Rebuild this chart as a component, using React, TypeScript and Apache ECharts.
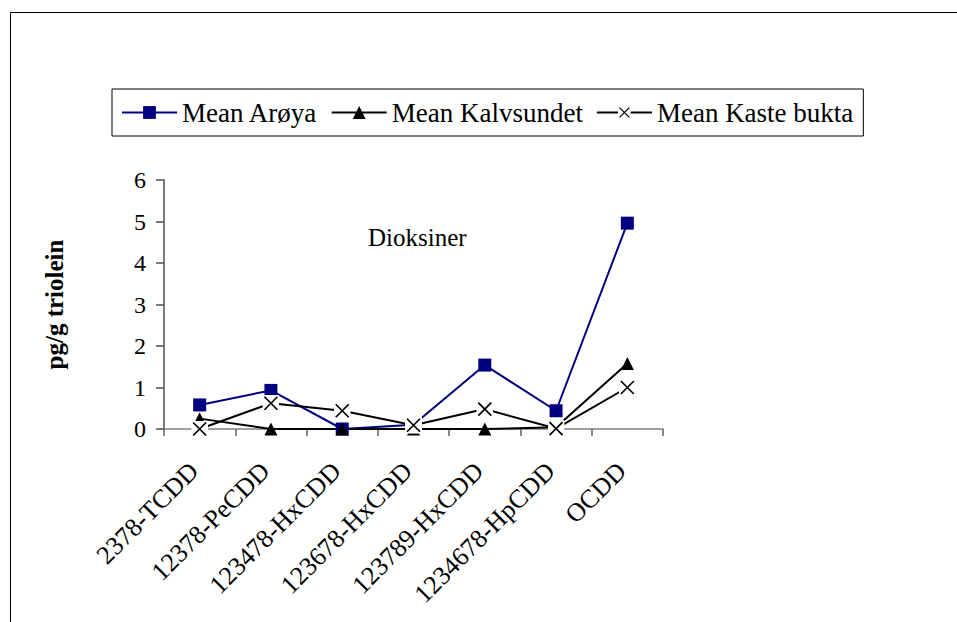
import React, { useEffect, useRef } from "react";
import * as echarts from "echarts";

const categories = [
  "2378-TCDD",
  "12378-PeCDD",
  "123478-HxCDD",
  "123678-HxCDD",
  "123789-HxCDD",
  "1234678-HpCDD",
  "OCDD",
];
const meanAroya = [0.58, 0.93, 0.0, 0.1, 1.54, 0.44, 4.96];
const meanKalvsundet = [0.25, 0.0, 0.0, 0.0, 0.0, 0.04, 1.58];
const meanKasteBukta = [0.0, 0.62, 0.44, 0.09, 0.48, 0.01, 1.0];
const seriesNames = ["Mean Arøya", "Mean Kalvsundet", "Mean Kaste bukta"];
const yTicks = { min: 0, max: 6, interval: 1 };

const FONT = "Liberation Serif";

const xSvg =
  "<svg xmlns='http://www.w3.org/2000/svg' width='17' height='17'>" +
  "<rect x='0' y='0' width='17' height='17' fill='white'/>" +
  "<path d='M2 2L15 15M15 2L2 15' stroke='black' stroke-width='1.7' fill='none'/>" +
  "</svg>";
const xSymbol = "image://data:image/svg+xml;utf8," + encodeURIComponent(xSvg);

export default function App() {
  const ref = useRef<HTMLDivElement>(null);
  useEffect(() => {
    if (!ref.current) return;
    const chart = echarts.init(ref.current, null, { renderer: "svg" });
    chart.setOption({
      animation: false,
      backgroundColor: "#ffffff",
      textStyle: { fontFamily: FONT },
      grid: {
        left: 164,
        right: 294,
        top: 180,
        bottom: 193,
        outerBoundsMode: "none",
        containLabel: false,
      },
      legend: {
        data: seriesNames,
        left: 112,
        top: 89,
        orient: "horizontal",
        padding: [10, 10, 10, 9],
        itemGap: 13,
        itemWidth: 55,
        itemHeight: 16,
        borderColor: "#000000",
        borderWidth: 1,
        textStyle: {
          fontFamily: FONT,
          fontSize: 27,
          lineHeight: 27,
          color: "#000000",
        },
      },
      graphic: [
        {
          type: "rect",
          shape: { x: 10.5, y: 12.5, width: 1200, height: 1200 },
          style: { fill: "none", stroke: "#000000", lineWidth: 1 },
          silent: true,
        },
        {
          type: "text",
          x: 368,
          y: 237,
          style: {
            text: "Dioksiner",
            fontFamily: FONT,
            fontSize: 25,
            fill: "#000000",
            verticalAlign: "middle",
          },
          silent: true,
        },
      ],
      xAxis: {
        type: "category",
        data: categories,
        boundaryGap: true,
        axisLine: { lineStyle: { color: "#808080", width: 1.5 } },
        axisTick: { show: true, length: 7, lineStyle: { color: "#606060", width: 1.5 } },
        axisLabel: {
          rotate: 45,
          interval: 0,
          margin: 32,
          padding: [0, 8, 0, 0],
          fontFamily: FONT,
          fontSize: 26,
          color: "#000000",
        },
        splitLine: { show: false },
      },
      yAxis: {
        type: "value",
        min: yTicks.min,
        max: yTicks.max,
        interval: yTicks.interval,
        name: "pg/g triolein",
        nameLocation: "middle",
        nameRotate: 90,
        nameGap: 97,
        nameTextStyle: {
          fontFamily: FONT,
          fontSize: 25,
          fontWeight: "bold",
          color: "#000000",
        },
        axisLine: { show: true, lineStyle: { color: "#4d4d4d", width: 1.5 } },
        axisTick: { show: true, length: 8, lineStyle: { color: "#4d4d4d", width: 1.5 } },
        axisLabel: {
          margin: 18,
          fontFamily: FONT,
          fontSize: 24,
          color: "#000000",
        },
        splitLine: { show: false },
      },
      series: [
        {
          name: seriesNames[0],
          type: "line",
          data: meanAroya,
          symbol: "rect",
          symbolSize: 13,
          lineStyle: { color: "#000080", width: 2 },
          itemStyle: { color: "#000080" },
        },
        {
          name: seriesNames[1],
          type: "line",
          data: meanKalvsundet,
          symbol: "triangle",
          symbolSize: 13,
          lineStyle: { color: "#000000", width: 2 },
          itemStyle: { color: "#000000" },
        },
        {
          name: seriesNames[2],
          type: "line",
          data: meanKasteBukta,
          symbol: xSymbol,
          symbolSize: 17,
          lineStyle: { color: "#000000", width: 2 },
          itemStyle: { color: "#000000" },
        },
      ],
    });
    return () => chart.dispose();
  }, []);
  return (
    <div
      ref={ref}
      style={{ position: "fixed", left: 0, top: 0, width: 957, height: 622 }}
    />
  );
}
